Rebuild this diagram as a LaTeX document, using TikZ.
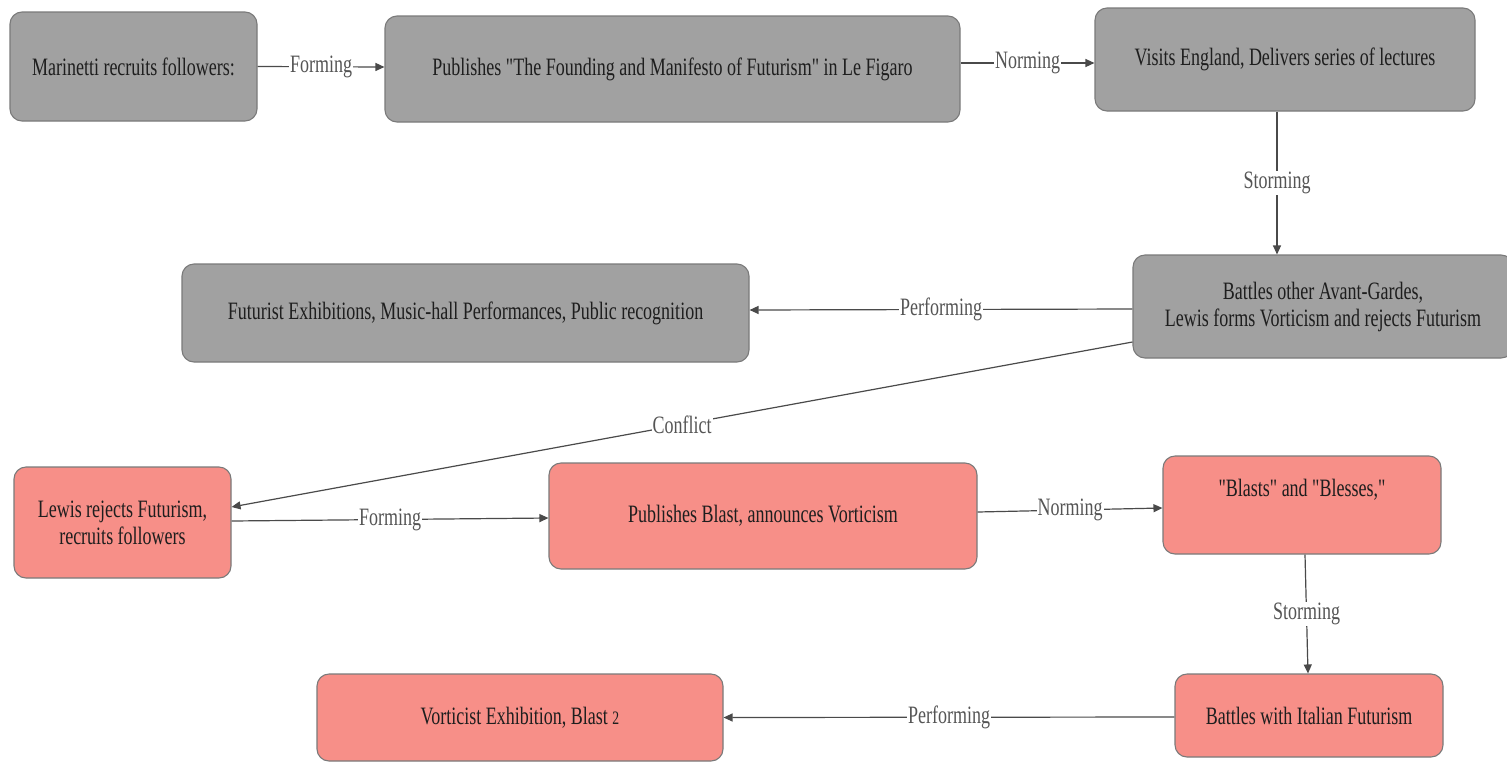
\documentclass[tikz,border=0pt]{standalone}
\usepackage{fontspec}
\setmainfont{Liberation Serif}[FakeStretch=0.72, Ligatures=TeXOff]
\usetikzlibrary{arrows.meta}
\definecolor{nodegray}{HTML}{A1A1A1}
\definecolor{salmon}{HTML}{F78F88}
\definecolor{edgegray}{HTML}{7A7A7A}
\definecolor{linegray}{HTML}{4A4A4A}
\definecolor{labelgray}{HTML}{555555}
\definecolor{inkdark}{HTML}{1E1E1E}
\tikzset{
  box/.style={draw=edgegray, line width=1.1pt, rounded corners=12pt,
    inner sep=0pt, align=center, text=inkdark, font=\fontsize{25}{27}\selectfont},
  graybox/.style={box, fill=nodegray},
  redbox/.style={box, fill=salmon},
  boxtext/.style={inner sep=0pt, align=center, text=inkdark, font=\fontsize{25}{27}\selectfont},
  conn/.style={draw=linegray, line width=1.2pt, -{Triangle[length=9pt,width=8pt]}},
  lbl/.style={fill=white, text=labelgray, inner sep=1pt, font=\fontsize{25}{27}\selectfont},
}
\begin{document}
\begin{tikzpicture}[x=1pt,y=-1pt]
\useasboundingbox[fill=white] (0,0) rectangle (1507,761);

% Futurism row (gray)
\node[graybox, minimum width=247pt, minimum height=109pt] (mar) at (133.5,66.5)
  {Marinetti recruits followers:};
\node[graybox, minimum width=575pt, minimum height=106pt] (pub) at (672.5,69)
  {Publishes "The Founding and Manifesto of Futurism" in Le Figaro};
\node[graybox, minimum width=380pt, minimum height=103pt] (vis) at (1285,59.5)
  {Visits England, Delivers series of lectures};
\node[graybox, minimum width=380pt, minimum height=103pt] (bat) at (1323,306.5)
  {Battles other Avant-Gardes,\\Lewis forms Vorticism and rejects Futurism};
\node[graybox, minimum width=567pt, minimum height=98pt] (fut) at (465.5,313)
  {Futurist Exhibitions, Music-hall Performances, Public recognition};

% Vorticism rows (salmon)
\node[redbox, minimum width=217pt, minimum height=111pt] (lew) at (122.5,522.5)
  {Lewis rejects Futurism,\\recruits followers};
\node[redbox, minimum width=428pt, minimum height=106pt] (bla) at (763,516)
  {Publishes Blast, announces Vorticism};
\node[redbox, minimum width=278pt, minimum height=98pt] (bbl) at (1302,505) {};
\node[boxtext] (bbltxt) at (1302,490) {"Blasts" and "Blesses,"};
\node[redbox, minimum width=268pt, minimum height=83pt] (ita) at (1309,715.5)
  {Battles with Italian Futurism};
\node[redbox, minimum width=406pt, minimum height=87pt] (vor) at (520,717.5)
  {Vorticist Exhibition, Blast {\fontsize{19}{20}\selectfont 2}};

% connectors
\draw[conn] (mar.east) -- node[lbl]{Forming} ([yshift=2pt]pub.west);
\draw[conn] ([yshift=6pt]pub.east) -- node[lbl]{Norming} ([yshift=-3.5pt]vis.west);
\draw[conn] ([xshift=-8pt]vis.south) -- node[lbl]{Storming} ([xshift=-46pt]bat.north);
\draw[conn] ([yshift=-2.5pt]bat.west) -- node[lbl]{Performing} ([yshift=3pt]fut.east);
\draw[conn] ([yshift=-35.5pt]bat.west) -- node[lbl]{Conflict} ([yshift=15.5pt]lew.east);
\draw[conn] ([yshift=1.5pt]lew.east) -- node[lbl]{Forming} ([yshift=-2pt]bla.west);
\draw[conn] ([yshift=4pt]bla.east) -- node[lbl]{Norming} ([yshift=-3pt]bbl.west);
\draw[conn] ([xshift=3pt]bbl.south) -- node[lbl]{Storming} ([xshift=-1pt]ita.north);
\draw[conn] ([yshift=-1.5pt]ita.west) -- node[lbl]{Performing} (vor.east);
\end{tikzpicture}
\end{document}
